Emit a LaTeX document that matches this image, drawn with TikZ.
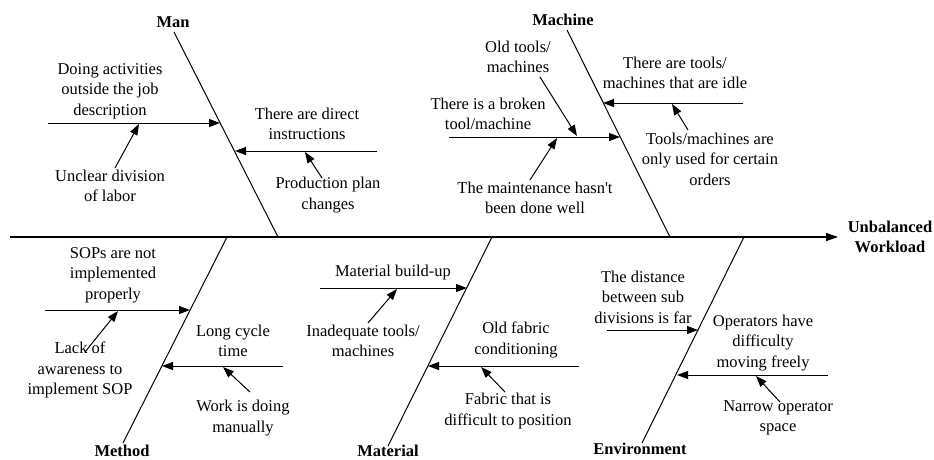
\documentclass[tikz,border=0pt]{standalone}
\usepackage{fontspec}
\setmainfont{Liberation Serif}
\usetikzlibrary{arrows.meta}
\begin{document}
\begin{tikzpicture}[x=1pt,y=-1pt,
  bone/.style={line width=1pt},
  arr/.style={line width=1pt,-{Triangle[length=11pt,width=8pt]}},
  txt/.style={align=center,inner sep=0pt,font=\fontsize{16.5}{20.5}\selectfont},
  cat/.style={align=center,inner sep=0pt,font=\fontsize{16.5}{19.5}\selectfont\bfseries}]
\useasboundingbox (0,0) rectangle (934,459);

% spine
\coordinate (spL) at (10,237);
\coordinate (spR) at (838,237);
\draw[line width=1.3pt,-{Triangle[length=12pt,width=8pt]}] (spL) -- (spR);
\node[cat] (effect) at (890,237) {Unbalanced\\Workload};

% bones
\coordinate (manT) at (174,32);  \coordinate (manB) at (278,237);
\coordinate (macT) at (567,30);  \coordinate (macB) at (670,237);
\coordinate (metT) at (227,237); \coordinate (metB) at (123,443);
\coordinate (matT) at (492,237); \coordinate (matB) at (388,446);
\coordinate (envT) at (744,237); \coordinate (envB) at (642,443);
\draw[bone] (manT) -- (manB);
\draw[bone] (macT) -- (macB);
\draw[bone] (metT) -- (metB);
\draw[bone] (matT) -- (matB);
\draw[bone] (envT) -- (envB);
\node[cat] (man) at (173,22) {Man};
\node[cat] (machine) at (563,20) {Machine};
\node[cat] (method) at (122,451) {Method};
\node[cat] (material) at (388,451) {Material};
\node[cat] (environment) at (640,449) {Environment};

% ---- Man
\coordinate (a1s) at (48,123);  \coordinate (a1e) at (220,123);
\coordinate (a2s) at (377,151); \coordinate (a2e) at (235,151);
\draw[arr] (a1s) -- (a1e);
\draw[arr] (a2s) -- (a2e);
\node[txt] (t1) at (110,91) {Doing activities\\outside the job\\description};
\node[txt] (t2) at (110,186) {Unclear division\\of labor};
\node[txt] (t3) at (307,124) {There are direct\\instructions};
\node[txt] (t4) at (328,195) {Production plan\\changes};
\coordinate (s1) at (115,168); \coordinate (s1e) at (139,124);
\coordinate (s2) at (322,178); \coordinate (s2e) at (305,152);
\draw[arr] (s1) -- (s1e);
\draw[arr] (s2) -- (s2e);

% ---- Machine
\coordinate (b1s) at (449,137); \coordinate (b1e) at (620,137);
\coordinate (b2s) at (743,103); \coordinate (b2e) at (603,103);
\draw[arr] (b1s) -- (b1e);
\draw[arr] (b2s) -- (b2e);
\node[txt] (t5) at (518,57) {Old tools/\\machines};
\node[txt] (t6) at (488,114) {There is a broken\\tool/machine};
\node[txt] (t7) at (535,198) {The maintenance hasn\textquotesingle t\\been done well};
\node[txt] (t8) at (675,73) {There are tools/\\machines that are idle};
\node[txt] (t9) at (710,159) {Tools/machines are\\only used for certain\\orders};
\coordinate (s3) at (540,77);  \coordinate (s3e) at (577,136);
\coordinate (s4) at (530,180); \coordinate (s4e) at (557,138);
\coordinate (s5) at (688,130); \coordinate (s5e) at (672,104);
\draw[arr] (s3) -- (s3e);
\draw[arr] (s4) -- (s4e);
\draw[arr] (s5) -- (s5e);

% ---- Method
\coordinate (c1s) at (45,310);  \coordinate (c1e) at (190,310);
\coordinate (c2s) at (283,366); \coordinate (c2e) at (162,366);
\draw[arr] (c1s) -- (c1e);
\draw[arr] (c2s) -- (c2e);
\node[txt] (t10) at (113,275) {SOPs are not\\implemented\\properly};
\node[txt] (t11) at (80,370) {Lack of\\awareness to\\implement SOP};
\node[txt] (t12) at (233,341) {Long cycle\\time};
\node[txt] (t13) at (243,418) {Work is doing\\manually};
\coordinate (s6) at (85,352);  \coordinate (s6e) at (118,311);
\coordinate (s7) at (250,392); \coordinate (s7e) at (223,367);
\draw[arr] (s6) -- (s6e);
\draw[arr] (s7) -- (s7e);

% ---- Material
\coordinate (d1s) at (320,288); \coordinate (d1e) at (467,288);
\coordinate (d2s) at (579,366); \coordinate (d2e) at (428,366);
\draw[arr] (d1s) -- (d1e);
\draw[arr] (d2s) -- (d2e);
\node[txt] (t14) at (393,273) {Material build-up};
\node[txt] (t15) at (363,341) {Inadequate tools/\\machines};
\node[txt] (t16) at (516,340) {Old fabric\\conditioning};
\node[txt] (t17) at (508,411) {Fabric that is\\difficult to position};
\coordinate (s8) at (368,323); \coordinate (s8e) at (397,289);
\coordinate (s9) at (505,392); \coordinate (s9e) at (481,367);
\draw[arr] (s8) -- (s8e);
\draw[arr] (s9) -- (s9e);

% ---- Environment
\coordinate (e1s) at (607,330); \coordinate (e1e) at (698,330);
\coordinate (e2s) at (828,375); \coordinate (e2e) at (677,375);
\draw[arr] (e1s) -- (e1e);
\draw[arr] (e2s) -- (e2e);
\node[txt] (t18) at (643,297) {The distance\\between sub\\divisions is far};
\node[txt] (t19) at (763,343) {Operators have\\difficulty\\moving freely};
\node[txt] (t20) at (778,418) {Narrow operator\\space};
\coordinate (s10) at (780,402); \coordinate (s10e) at (756,376);
\draw[arr] (s10) -- (s10e);
\end{tikzpicture}
\end{document}
